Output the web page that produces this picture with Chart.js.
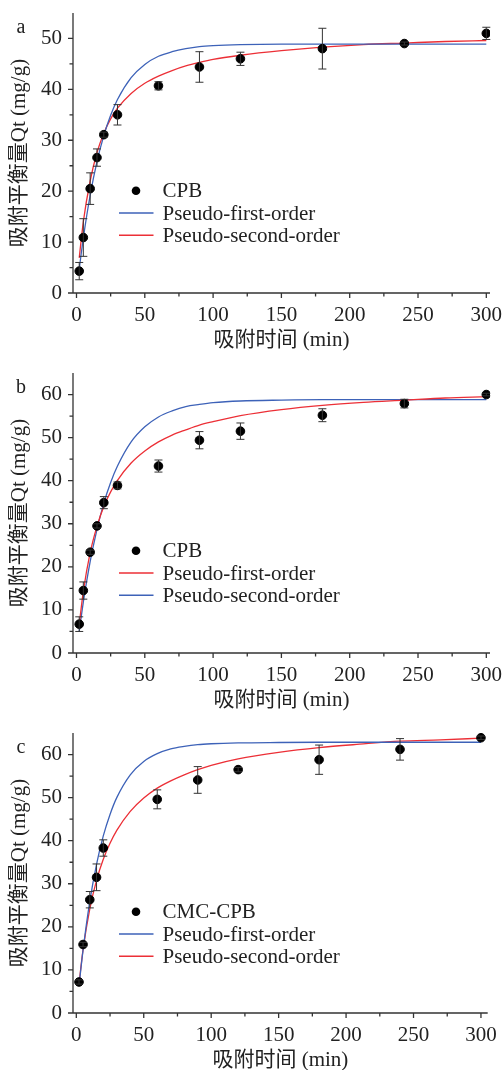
<!DOCTYPE html>
<html>
<head>
<meta charset="utf-8">
<title>吸附动力学</title>
<script src="https://cdn.jsdelivr.net/npm/chart.js@4.4.1/dist/chart.umd.min.js"></script>
<style>
  html, body { margin: 0; padding: 0; background: #fff; overflow: hidden; }
  .panel { position: relative; width: 502px; height: 360px; }
</style>
</head>
<body>
<div class="panel"><canvas id="chartA"></canvas></div>
<div class="panel"><canvas id="chartB"></canvas></div>
<div class="panel"><canvas id="chartC"></canvas></div>
<script>
  // measured points (time in min, Qt in mg/g, error bar half height)
  const timeAB = [2, 5, 10, 15, 20, 30, 60, 90, 120, 180, 240, 300];
  const timeC = [2, 5, 10, 15, 20, 60, 90, 120, 180, 240, 300];

  const qtA = [4.3, 10.9, 20.5, 26.6, 31.1, 35.0, 40.7, 44.4, 46.0, 48.0, 49.0, 51.0];
  const errA = [1.7, 3.7, 3.1, 1.7, 0.5, 2.0, 0.8, 3.0, 1.3, 4.0, 0.3, 1.2];

  const qtB = [6.7, 14.5, 23.4, 29.5, 34.9, 38.9, 43.4, 49.4, 51.5, 55.2, 57.9, 60.0];
  const errB = [1.7, 2.0, 0.5, 0.5, 1.4, 0.8, 1.4, 2.0, 1.9, 1.5, 1.0, 0.3];

  const qtC = [7.2, 15.9, 26.3, 31.5, 38.3, 49.6, 54.1, 56.5, 58.8, 61.2, 63.9];
  const errC = [0.5, 0.5, 1.9, 3.1, 1.9, 2.2, 3.1, 0.5, 3.4, 2.5, 0.4];

  // fitted curves
  const fitTime = [2, 5, 10, 15, 20, 25, 30, 40, 50, 60, 70, 80, 90, 100, 120, 150, 180, 210, 240, 270, 300];

  const blueA = [4.7, 10.8, 19.2, 25.8, 30.9, 34.9, 38.0, 42.3, 44.9, 46.5, 47.4, 48.0, 48.4, 48.6, 48.8, 48.9, 48.9, 48.9, 48.9, 48.9, 48.9];
  const redA = [6.9, 14.0, 22.0, 27.6, 31.4, 34.2, 36.3, 39.2, 41.2, 42.6, 43.7, 44.6, 45.3, 45.9, 46.7, 47.6, 48.3, 48.8, 49.1, 49.4, 49.6];

  const redB = [6.6, 14.3, 23.3, 29.4, 34.0, 37.4, 40.1, 44.1, 46.9, 49.0, 50.6, 51.8, 52.9, 53.7, 55.1, 56.5, 57.5, 58.2, 58.7, 59.2, 59.5];
  const blueB = [5.0, 11.8, 21.2, 28.7, 34.8, 39.6, 43.4, 49.0, 52.5, 54.8, 56.2, 57.2, 57.7, 58.1, 58.5, 58.7, 58.8, 58.8, 58.8, 58.8, 58.8];

  const blueC = [6.3, 14.6, 25.9, 34.5, 41.1, 46.1, 50.0, 55.3, 58.4, 60.2, 61.3, 61.9, 62.3, 62.5, 62.7, 62.8, 62.85, 62.85, 62.85, 62.85, 62.85];
  const redC = [6.8, 14.7, 24.2, 30.8, 35.7, 39.4, 42.4, 46.8, 49.9, 52.2, 53.9, 55.3, 56.5, 57.5, 59.0, 60.5, 61.6, 62.4, 63.1, 63.4, 63.8];

  // tick lists
  const xTicks = [0, 25, 50, 75, 100, 125, 150, 175, 200, 225, 250, 275, 300];
  const yTicksA = [0, 5, 10, 15, 20, 25, 30, 35, 40, 45, 50];
  const yTicksBC = [0, 5, 10, 15, 20, 25, 30, 35, 40, 45, 50, 55, 60];

  const BLUE = '#3d62b8';
  const RED = '#ec2f36';
  const INK = '#222';
  const SERIF = "'Liberation Serif', 'Noto Sans CJK SC', serif";

  const toXY = (xs, ys) => xs.map((x, i) => ({ x: x, y: ys[i] }));

  // axis lines plus outward major/minor ticks
  const axesPlugin = {
    id: 'axesTicks',
    afterDraw(chart) {
      const { ctx, chartArea: a, scales: { x, y } } = chart;
      ctx.save();
      ctx.strokeStyle = '#333';
      ctx.lineWidth = 1.3;
      ctx.beginPath();
      ctx.moveTo(a.left - 5, a.bottom);
      ctx.lineTo(a.right, a.bottom);
      ctx.moveTo(a.left, a.bottom);
      ctx.lineTo(a.left, a.top);
      x.ticks.forEach(t => {
        const px = x.getPixelForValue(t.value);
        const len = t.value % 50 === 0 ? 5 : 3.5;
        ctx.moveTo(px, a.bottom);
        ctx.lineTo(px, a.bottom + len);
      });
      y.ticks.forEach(t => {
        const py = y.getPixelForValue(t.value);
        const len = t.value % 10 === 0 ? 5 : 3.5;
        ctx.moveTo(a.left, py);
        ctx.lineTo(a.left - len, py);
      });
      ctx.stroke();
      ctx.restore();
    }
  };

  // error bars for datasets that carry an errors list
  const errorBarPlugin = {
    id: 'errorBars',
    afterDatasetsDraw(chart) {
      const { ctx, scales: { x, y } } = chart;
      ctx.save();
      ctx.strokeStyle = '#333';
      ctx.lineWidth = 1;
      chart.data.datasets.forEach(ds => {
        if (!ds.errors) return;
        ds.data.forEach((p, i) => {
          const e = ds.errors[i];
          const px = x.getPixelForValue(p.x);
          const top = y.getPixelForValue(p.y + e);
          const bot = y.getPixelForValue(p.y - e);
          ctx.beginPath();
          ctx.moveTo(px, top); ctx.lineTo(px, bot);
          ctx.moveTo(px - 4, top); ctx.lineTo(px + 4, top);
          ctx.moveTo(px - 4, bot); ctx.lineTo(px + 4, bot);
          ctx.stroke();
        });
      });
      ctx.restore();
    }
  };

  // legend inside the plot and the panel letter
  const legendPlugin = {
    id: 'panelLegend',
    afterDraw(chart, args, opts) {
      const ctx = chart.ctx;
      ctx.save();
      ctx.fillStyle = INK;
      ctx.font = '20px ' + SERIF;
      ctx.textAlign = 'center';
      ctx.textBaseline = 'alphabetic';
      ctx.fillText(opts.letter, 21, 33);
      ctx.textAlign = 'left';
      ctx.textBaseline = 'middle';
      ctx.font = '21px ' + SERIF;
      chart.data.datasets.forEach((ds, i) => {
        const yy = opts.y + i * 22.3;
        if (ds.showLine) {
          ctx.strokeStyle = ds.borderColor;
          ctx.lineWidth = 1.4;
          ctx.beginPath();
          ctx.moveTo(119, yy);
          ctx.lineTo(153.5, yy);
          ctx.stroke();
        } else {
          ctx.fillStyle = '#000';
          ctx.beginPath();
          ctx.arc(136, yy, 4.3, 0, Math.PI * 2);
          ctx.fill();
        }
        ctx.fillStyle = INK;
        ctx.fillText(ds.label, 162.5, yy + 1);
      });
      ctx.restore();
    }
  };

  function makePanel(id, cfg) {
    const datasets = [
      {
        label: cfg.pointLabel,
        data: toXY(cfg.time, cfg.qt),
        errors: cfg.err,
        backgroundColor: '#000',
        borderColor: '#000',
        pointRadius: 4.3,
        pointHoverRadius: 4.3,
        showLine: false
      }
    ];
    cfg.curves.forEach(c => {
      datasets.push({
        label: c.label,
        data: toXY(fitTime, c.values),
        borderColor: c.color,
        backgroundColor: c.color,
        borderWidth: 1.3,
        pointRadius: 0,
        showLine: true,
        cubicInterpolationMode: 'monotone'
      });
    });

    return new Chart(document.getElementById(id), {
      type: 'scatter',
      data: { datasets: datasets },
      plugins: [axesPlugin, errorBarPlugin, legendPlugin],
      options: {
        responsive: true,
        maintainAspectRatio: false,
        animation: false,
        devicePixelRatio: 1,
        layout: { padding: { top: 13, right: cfg.rightPad, left: 0, bottom: 0 } },
        plugins: {
          legend: { display: false },
          tooltip: { enabled: false },
          panelLegend: { letter: cfg.letter, y: cfg.legendY }
        },
        scales: {
          x: {
            type: 'linear',
            min: cfg.xMin,
            max: cfg.xMax,
            afterBuildTicks: s => { s.ticks = xTicks.map(v => ({ value: v })); },
            afterFit: s => { s.height = 67; s.paddingLeft = 0; s.paddingRight = 0; },
            grid: { display: false },
            border: { display: false },
            ticks: {
              autoSkip: false,
              maxRotation: 0,
              padding: 2,
              color: INK,
              font: { family: SERIF, size: 21 },
              callback: v => (v % 50 === 0 ? v : '')
            },
            title: {
              display: true,
              text: '吸附时间 (min)',
              color: INK,
              font: { family: SERIF, size: 21 },
              padding: { top: 0, bottom: 7 }
            }
          },
          y: {
            type: 'linear',
            min: 0,
            max: cfg.yMax,
            afterBuildTicks: s => { s.ticks = cfg.yTicks.map(v => ({ value: v })); },
            afterFit: s => { s.width = 73; s.paddingTop = 0; s.paddingBottom = 0; },
            grid: { display: false },
            border: { display: false },
            ticks: {
              autoSkip: false,
              padding: 3,
              color: INK,
              font: { family: SERIF, size: 21 },
              callback: v => (v % 10 === 0 ? v : '')
            },
            title: {
              display: true,
              text: '吸附平衡量Qt (mg/g)',
              color: INK,
              font: { family: SERIF, size: 21 },
              padding: { top: 7, bottom: 0 }
            }
          }
        }
      }
    });
  }

  makePanel('chartA', {
    letter: 'a', time: timeAB, qt: qtA, err: errA, pointLabel: 'CPB',
    curves: [
      { label: 'Pseudo-first-order', values: blueA, color: BLUE },
      { label: 'Pseudo-second-order', values: redA, color: RED }
    ],
    xMin: -2.56, xMax: 302.7, rightPad: 12, yMax: 55, yTicks: yTicksA, legendY: 190.7
  });

  makePanel('chartB', {
    letter: 'b', time: timeAB, qt: qtB, err: errB, pointLabel: 'CPB',
    curves: [
      { label: 'Pseudo-first-order', values: redB, color: RED },
      { label: 'Pseudo-second-order', values: blueB, color: BLUE }
    ],
    xMin: -2.56, xMax: 302.7, rightPad: 12, yMax: 65, yTicks: yTicksBC, legendY: 190.7
  });

  makePanel('chartC', {
    letter: 'c', time: timeC, qt: qtC, err: errC, pointLabel: 'CMC-CPB',
    curves: [
      { label: 'Pseudo-first-order', values: blueC, color: BLUE },
      { label: 'Pseudo-second-order', values: redC, color: RED }
    ],
    xMin: -2.45, xMax: 305, rightPad: 14.3, yMax: 65, yTicks: yTicksBC, legendY: 191.7
  });
</script>
</body>
</html>
